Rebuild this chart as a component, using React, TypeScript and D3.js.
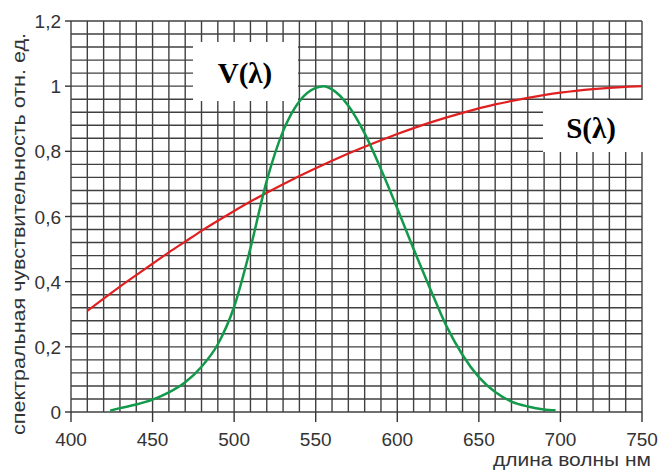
import React from 'react';
import * as d3 from 'd3';

// wavelength ticks (nm) and relative sensitivity ticks
const xTicks = [400, 450, 500, 550, 600, 650, 700, 750];
const yTicks = [0, 0.2, 0.4, 0.6, 0.8, 1, 1.2];
const yTickLabels = ['0', '0,2', '0,4', '0,6', '0,8', '1', '1,2'];

// S(λ) - red curve
const waveS = [410, 420, 430, 440, 450, 460, 470, 480, 490, 500, 510, 520, 530, 540, 550, 560, 570, 580, 590, 600, 620, 640, 660, 680, 700, 720, 740, 750];
const valS = [0.31, 0.348, 0.385, 0.42, 0.455, 0.49, 0.523, 0.556, 0.587, 0.617, 0.646, 0.673, 0.699, 0.724, 0.748, 0.771, 0.793, 0.814, 0.834, 0.853, 0.888, 0.918, 0.944, 0.964, 0.98, 0.991, 0.998, 1.0];

// V(λ) - green curve
const waveV = [424, 430, 440, 450, 460, 470, 480, 490, 500, 510, 520, 530, 540, 550, 555, 560, 570, 580, 590, 600, 610, 620, 630, 640, 650, 660, 670, 680, 690, 697];
const valV = [0.004, 0.012, 0.023, 0.038, 0.06, 0.091, 0.139, 0.208, 0.323, 0.503, 0.71, 0.862, 0.954, 0.995, 1.0, 0.99, 0.94, 0.855, 0.745, 0.625, 0.5, 0.38, 0.265, 0.175, 0.107, 0.061, 0.032, 0.017, 0.008, 0.005];

const App = () => {
  const width = 659;
  const height = 471;
  const left = 71, right = 642, top = 21, bottom = 412;

  const x = d3.scaleLinear().domain([400, 750]).range([left, right]);
  const y = d3.scaleLinear().domain([0, 1.2]).range([bottom, top]);

  // minor grid: every 10 nm and every 0.04
  const gridX = d3.range(400, 751, 10);
  const gridY = d3.range(0, 31).map(i => i * 0.04);

  const line = d3.line<[number, number]>()
    .x(d => x(d[0]))
    .y(d => y(d[1]))
    .curve(d3.curveMonotoneX);

  const sPath = line(waveS.map((w, i) => [w, valS[i]]) as [number, number][]) || '';
  const vPath = line(waveV.map((w, i) => [w, valV[i]]) as [number, number][]) || '';

  const sans = 'Liberation Sans, Arial, sans-serif';
  const serif = 'Liberation Serif, Times New Roman, serif';

  return (
    <svg width={width} height={height} style={{ position: 'absolute', left: 0, top: 0, background: '#fff' }}>
      <rect x={0} y={0} width={width} height={height} fill="#fff" />

      {/* grid */}
      <g stroke="#404040" strokeWidth={1.4}>
        {gridX.map(v => (
          <line key={'gx' + v} x1={x(v)} x2={x(v)} y1={top} y2={bottom} />
        ))}
        {gridY.map(v => (
          <line key={'gy' + v} x1={left} x2={right} y1={y(v)} y2={y(v)} />
        ))}
      </g>

      {/* axes ticks */}
      <g stroke="#333" strokeWidth={1.4}>
        {yTicks.map(v => (
          <line key={'yt' + v} x1={left - 6} x2={left} y1={y(v)} y2={y(v)} />
        ))}
        {xTicks.map(v => (
          <line key={'xt' + v} x1={x(v)} x2={x(v)} y1={bottom} y2={bottom + 10} />
        ))}
      </g>

      {/* curves */}
      <path d={sPath} fill="none" stroke="#e02020" strokeWidth={2.2} />
      <path d={vPath} fill="none" stroke="#13994a" strokeWidth={2.5} />

      {/* legend boxes */}
      <rect x={193} y={42} width={105} height={59} fill="#fff" />
      <text x={245} y={83} fontFamily={serif} fontWeight="bold" fontSize={29} textAnchor="middle" fill="#000">V(λ)</text>
      <rect x={543} y={100} width={108} height={52} fill="#fff" />
      <text x={591} y={138} fontFamily={serif} fontWeight="bold" fontSize={29} textAnchor="middle" fill="#000">S(λ)</text>

      {/* tick labels */}
      <g fontFamily={sans} fontSize={19} fill="#333">
        {yTicks.map((v, i) => (
          <text key={'yl' + v} x={61} y={y(v) + 7} textAnchor="end">{yTickLabels[i]}</text>
        ))}
        {xTicks.map(v => (
          <text key={'xl' + v} x={x(v)} y={446} textAnchor="middle">{v}</text>
        ))}
      </g>

      {/* axis titles */}
      <text
        transform={`translate(25, 234) rotate(-90)`}
        textAnchor="middle"
        fontFamily={sans}
        fontSize={18}
        fill="#333"
        textLength={402}
        lengthAdjust="spacingAndGlyphs"
      >
        спектральная чувствительность отн. ед.
      </text>
      <text x={651} y={466} textAnchor="end" fontFamily={sans} fontSize={19} fill="#333" textLength={158} lengthAdjust="spacingAndGlyphs">длина волны нм</text>
    </svg>
  );
};

export default App;
